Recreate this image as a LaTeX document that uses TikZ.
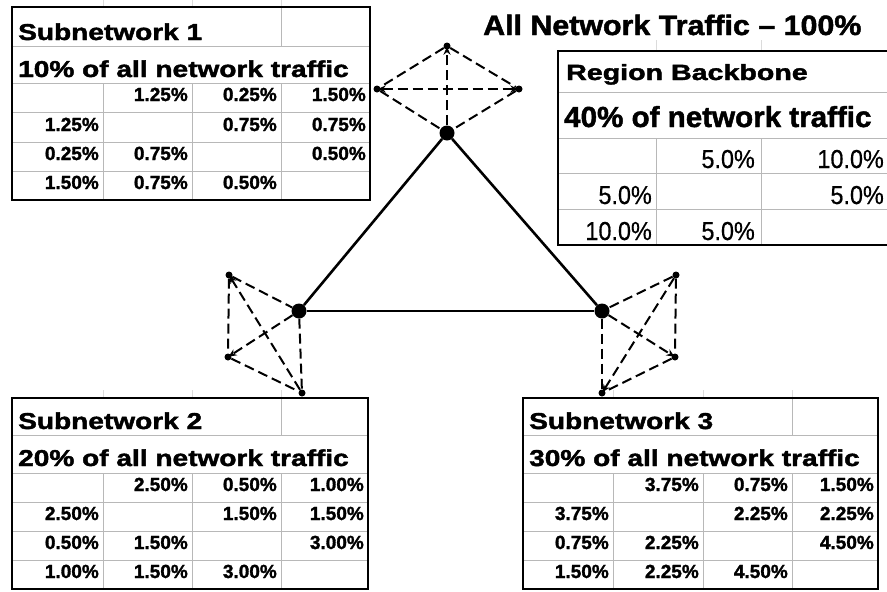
\documentclass[tikz,border=0pt]{standalone}
\usepackage{fontspec}
\usepackage{graphicx}
\setmainfont{Liberation Sans}[BoldFeatures={FakeBold=1.6}]
\newfontfamily\regfont{Liberation Sans}[FakeBold=0.6]
\usetikzlibrary{arrows.meta}
\newcommand{\hx}[1]{\scalebox{1.22}[1]{#1}}
\newcommand{\rx}[1]{\scalebox{0.9}[1]{#1}}
\tikzset{
  cellgrid/.style={draw=black!28, line width=0.9pt},
  border/.style={draw=black, line width=1.5pt},
  ghost/.style={draw=black!14, line width=0.7pt},
  bignode/.style={circle, fill=black, inner sep=0pt, minimum size=15pt},
  smallnode/.style={circle, fill=black, inner sep=0pt, minimum size=7pt},
  link/.style={line width=2.6pt},
  dlink/.style={line width=2pt, dash pattern=on 10pt off 5pt},
  arr/.style={-{Stealth[length=8pt,width=7pt]}, shorten >=-3pt},
  darr/.style={{Stealth[length=8pt,width=7pt]}-{Stealth[length=8pt,width=7pt]}, shorten >=-3pt, shorten <=-3pt},
  ttl/.style={anchor=base west, inner sep=0pt, font=\bfseries\fontsize{28}{28}\selectfont},
  hd/.style={anchor=base west, inner sep=0pt, font=\bfseries\fontsize{23}{23}\selectfont},
  rhd/.style={anchor=base west, inner sep=0pt, font=\bfseries\fontsize{22}{22}\selectfont},
  rhd2/.style={anchor=base west, inner sep=0pt, font=\bfseries\fontsize{29}{29}\selectfont},
  dv/.style={anchor=base east, inner sep=0pt, font=\bfseries\fontsize{19}{19}\selectfont},
  rv/.style={anchor=base east, inner sep=0pt, font=\regfont\fontsize{26}{26}\selectfont},
}
\begin{document}
\begin{tikzpicture}[x=1pt,y=-1pt]
\useasboundingbox[fill=white] (0,0) rectangle (887,592);

% ---------- title ----------
\node[ttl] (title) at (483,35) {\scalebox{1.085}[1]{All Network Traffic – 100\%}};

% ---------- Subnetwork 1 ----------
\foreach \x in {103,192,281} \draw[ghost] (\x,0) -- (\x,7);
\foreach \y in {46,83,112,142,171} \draw[cellgrid] (12,\y) -- (370,\y);
\draw[cellgrid] (281,7) -- (281,46);
\foreach \x in {103,192,281} \draw[cellgrid] (\x,83) -- (\x,200);
\draw[border] (12,7) rectangle (370,200);
\node[hd] (s1t) at (18,40) {\hx{Subnetwork 1}};
\node[hd] (s1s) at (18,77) {\hx{10\% of all network traffic}};
\foreach \x/\y/\t [count=\i] in {188/101/1.25, 277/101/0.25, 366/101/1.50,
   99/131/1.25, 277/131/0.75, 366/131/0.75,
   99/160/0.25, 188/160/0.75, 366/160/0.50,
   99/189/1.50, 188/189/0.75, 277/189/0.50}
  \node[dv] (s1v\i) at (\x,\y) {\t\%};

% ---------- Region Backbone ----------
\foreach \x in {656,761} \draw[ghost] (\x,40) -- (\x,51);
\foreach \y in {92,138,173,209} \draw[cellgrid] (558,\y) -- (887,\y);
\foreach \x in {656,761} \draw[cellgrid] (\x,138) -- (\x,245);
\draw[border] (887,51) -- (558,51) -- (558,245) -- (887,245);
\node[rhd] (rbt) at (566,80) {\scalebox{1.3}[1]{Region Backbone}};
\node[rhd2] (rbs) at (564,127) {\scalebox{1.02}[1]{40\% of network traffic}};
\foreach \x/\y/\t [count=\i] in {755/168/5.0, 884/168/10.0,
   652/204/5.0, 884/204/5.0,
   652/240/10.0, 755/240/5.0}
  \node[rv] (rbv\i) at (\x,\y) {\rx{\t\%}};

% ---------- Subnetwork 2 ----------
\foreach \x in {103,192,281} \draw[ghost] (\x,390) -- (\x,398);
\foreach \y in {435,473,502,531,560} \draw[cellgrid] (12,\y) -- (368,\y);
\draw[cellgrid] (281,398) -- (281,435);
\foreach \x in {103,192,281} \draw[cellgrid] (\x,473) -- (\x,589);
\draw[border] (12,398) rectangle (368,589);
\node[hd] (s2t) at (18,429) {\hx{Subnetwork 2}};
\node[hd] (s2s) at (18,466) {\hx{20\% of all network traffic}};
\foreach \x/\y/\t [count=\i] in {188/491/2.50, 277/491/0.50, 364/491/1.00,
   99/520/2.50, 277/520/1.50, 364/520/1.50,
   99/549/0.50, 188/549/1.50, 364/549/3.00,
   99/578/1.00, 188/578/1.50, 277/578/3.00}
  \node[dv] (s2v\i) at (\x,\y) {\t\%};

% ---------- Subnetwork 3 ----------
\foreach \x in {613,703,792} \draw[ghost] (\x,390) -- (\x,398);
\foreach \y in {435,473,502,531,560} \draw[cellgrid] (523,\y) -- (878,\y);
\draw[cellgrid] (792,398) -- (792,435);
\foreach \x in {613,703,792} \draw[cellgrid] (\x,473) -- (\x,589);
\draw[border] (523,398) rectangle (878,589);
\node[hd] (s3t) at (529,429) {\hx{Subnetwork 3}};
\node[hd] (s3s) at (529,466) {\hx{30\% of all network traffic}};
\foreach \x/\y/\t [count=\i] in {699/491/3.75, 788/491/0.75, 874/491/1.50,
   609/520/3.75, 788/520/2.25, 874/520/2.25,
   609/549/0.75, 699/549/2.25, 874/549/4.50,
   609/578/1.50, 699/578/2.25, 788/578/4.50}
  \node[dv] (s3v\i) at (\x,\y) {\t\%};

% ---------- network ----------
\node[bignode] (T) at (447,133) {};
\node[bignode] (L) at (299,311) {};
\node[bignode] (R) at (602,311) {};
\node[smallnode] (ta) at (447,46) {};
\node[smallnode] (tb) at (377,89) {};
\node[smallnode] (tc) at (519,89) {};
\node[smallnode] (lp) at (229,275) {};
\node[smallnode] (lq) at (228,357) {};
\node[smallnode] (lr) at (302,393) {};
\node[smallnode] (ru) at (676,275) {};
\node[smallnode] (rv) at (675,357) {};
\node[smallnode] (rw) at (602,393) {};

\draw[link] (T) -- (L);
\draw[link] (L) -- (R);
\draw[link] (R) -- (T);

\draw[dlink] (ta) -- (tb);
\draw[dlink] (ta) -- (tc);
\draw[dlink,darr] (tb) -- (tc);
\draw[dlink,arr] (T) -- (ta);
\draw[dlink] (tb) -- (T);
\draw[dlink] (tc) -- (T);

\draw[dlink] (lp) -- (lq);
\draw[dlink] (lp) -- (L);
\draw[dlink,arr] (lr) -- (lp);
\draw[dlink,arr] (L) -- (lq);
\draw[dlink] (lq) -- (lr);
\draw[dlink] (L) -- (lr);

\draw[dlink] (ru) -- (rv);
\draw[dlink] (ru) -- (R);
\draw[dlink,arr] (ru) -- (rw);
\draw[dlink,arr] (R) -- (rv);
\draw[dlink] (rv) -- (rw);
\draw[dlink] (R) -- (rw);
\end{tikzpicture}
\end{document}
